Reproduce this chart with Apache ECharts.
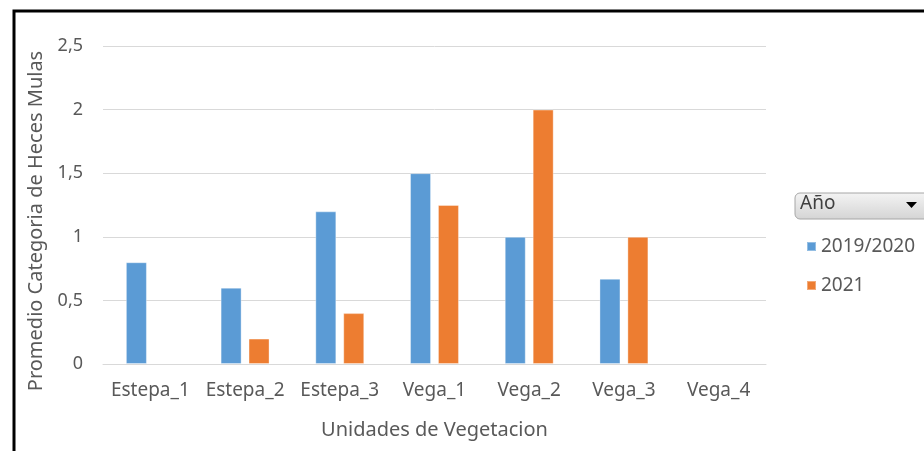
<!DOCTYPE html>
<html>
<head>
<meta charset="utf-8">
<script src="https://cdn.jsdelivr.net/npm/echarts@6/dist/echarts.min.js"></script>
<style>
html,body{margin:0;padding:0;background:#fff;}
#chart{width:924px;height:451px;}
</style>
</head>
<body>
<div id="chart"></div>
<script>
// datos
var categorias = ['Estepa_1','Estepa_2','Estepa_3','Vega_1','Vega_2','Vega_3','Vega_4'];
var serie2019 = [0.8, 0.6, 1.2, 1.5, 1.0, 0.67, null];
var serie2021 = [null, 0.2, 0.4, 1.25, 2.0, 1.0, null];
var nombres = ['2019/2020','2021'];
var colores = ['#5B9BD5','#ED7D31'];

var fuente = '"Noto Sans", sans-serif';
var gris = '#595959';

var myChart = echarts.init(document.getElementById('chart'));
var option = {
    animation: false,
    color: colores,
    grid: {
        left: 103,
        right: 158,
        top: 46,
        bottom: 87
    },
    legend: {
        orient: 'vertical',
        left: 801,
        top: 232,
        itemWidth: 9,
        itemHeight: 9,
        itemGap: 20,
        icon: 'rect',
        textStyle: {
            fontFamily: fuente,
            fontSize: 19,
            color: gris
        },
        data: nombres
    },
    xAxis: {
        type: 'category',
        data: categorias,
        name: 'Unidades de Vegetacion',
        nameLocation: 'middle',
        nameGap: 56,
        nameTextStyle: {
            fontFamily: fuente,
            fontSize: 20,
            color: gris
        },
        axisLine: { lineStyle: { color: '#d9d9d9' } },
        axisTick: { show: false },
        axisLabel: {
            fontFamily: fuente,
            fontSize: 19,
            color: gris,
            margin: 17,
            interval: 0
        }
    },
    yAxis: {
        type: 'value',
        min: 0,
        max: 2.5,
        interval: 0.5,
        name: 'Promedio Categoria de Heces Mulas',
        nameLocation: 'middle',
        nameGap: 56,
        nameTextStyle: {
            fontFamily: fuente,
            fontSize: 20,
            color: gris,
            padding: [0, 32, 0, 0]
        },
        axisLine: { show: false },
        axisTick: { show: false },
        splitLine: { lineStyle: { color: '#d9d9d9' } },
        axisLabel: {
            fontFamily: fuente,
            fontSize: 18,
            color: gris,
            margin: 20,
            formatter: function (v) {
                return String(v).replace('.', ',');
            }
        }
    },
    graphic: [
        {
            type: 'rect',
            shape: { x: 14, y: 11, width: 930, height: 460 },
            style: { fill: 'none', stroke: '#000', lineWidth: 3 },
            silent: true
        },
        {
            type: 'rect',
            shape: { x: 795, y: 193, width: 140, height: 26, r: 5 },
            style: {
                fill: new echarts.graphic.LinearGradient(0, 0, 0, 1, [
                    { offset: 0, color: '#f4f4f4' },
                    { offset: 1, color: '#d4d4d4' }
                ]),
                stroke: '#a6a6a6',
                lineWidth: 1
            }
        },
        {
            type: 'text',
            left: 800,
            top: 194,
            style: {
                text: 'Año',
                fontFamily: fuente,
                fontSize: 19,
                fill: '#404040'
            }
        },
        {
            type: 'polygon',
            shape: { points: [[906, 202], [917, 202], [911.5, 208]] },
            style: { fill: '#000' }
        }
    ],
    series: [
        {
            name: nombres[0],
            type: 'bar',
            data: serie2019,
            barWidth: 21,
            barGap: '33%',
            itemStyle: { borderColor: 'rgba(255,255,255,0.35)', borderWidth: 1 }
        },
        {
            name: nombres[1],
            type: 'bar',
            data: serie2021,
            barWidth: 21,
            barGap: '33%',
            itemStyle: { borderColor: 'rgba(255,255,255,0.35)', borderWidth: 1 }
        }
    ]
};

myChart.setOption(option);
</script>
</body>
</html>
